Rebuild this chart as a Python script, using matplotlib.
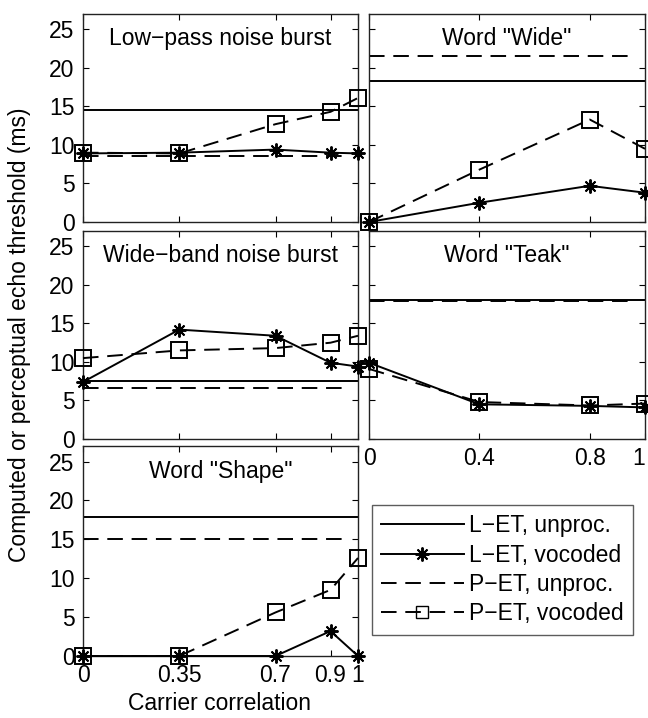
import numpy as np
import matplotlib
matplotlib.use("Agg")
import matplotlib.pyplot as plt
from matplotlib.lines import Line2D

plt.rcParams["font.family"] = ["Liberation Sans", "DejaVu Sans"]
plt.rcParams["font.size"] = 16.5

# carrier correlation values
x_noise = [0, 0.35, 0.7, 0.9, 1]
x_word = [0, 0.4, 0.8, 1]

# Low-pass noise burst
lp_let_unproc = 14.5
lp_pet_unproc = 8.6
lp_let_voc = [8.9, 9.0, 9.4, 9.0, 8.9]
lp_pet_voc = [9.0, 8.9, 12.7, 14.3, 16.1]

# Wide-band noise burst
wb_let_unproc = 7.5
wb_pet_unproc = 6.6
wb_let_voc = [7.4, 14.2, 13.4, 9.9, 9.4]
wb_pet_voc = [10.5, 11.5, 11.8, 12.5, 13.4]

# Word "Shape"
sh_let_unproc = 17.9
sh_pet_unproc = 15.0
sh_let_voc = [0, 0, 0, 3.2, 0]
sh_pet_voc = [0, 0, 5.6, 8.5, 12.6]

# Word "Wide"
wi_let_unproc = 18.3
wi_pet_unproc = 21.6
wi_let_voc = [0, 2.5, 4.7, 3.8]
wi_pet_voc = [0, 6.8, 13.3, 9.5]

# Word "Teak"
te_let_unproc = 18.0
te_pet_unproc = 17.9
te_let_voc = [9.9, 4.5, 4.3, 4.1]
te_pet_voc = [9.1, 4.8, 4.35, 4.6]

dash = (0, (8, 4.5))
lw = 1.4
star = (8, 2, 0)

fig = plt.figure(figsize=(6.48, 7.18), dpi=100)

lx, rx, w = 83 / 648, 369 / 648, 276 / 648
h = 208 / 718
rows = [1 - 222 / 718, 1 - 439 / 718, 1 - 656 / 718]


def panel(rect, title, x, let_u, pet_u, let_v, pet_v, xticks, xlabels, ylabels):
    ax = fig.add_axes(rect)
    ax.axhline(let_u, color="k", lw=lw)
    ax.axhline(pet_u, color="k", lw=lw, ls=dash, xmax=0.95)
    ax.plot(x, let_v, color="k", lw=lw, marker=star, ms=10, mew=1.4,
            clip_on=False, zorder=3)
    ax.plot(x, pet_v, color="k", lw=lw, ls=dash, marker="s", ms=11,
            mfc="none", mec="k", mew=1.4, clip_on=False, zorder=3)
    ax.set_xlim(0, 1)
    ax.set_ylim(0, 27)
    ax.set_xticks(xticks)
    ax.set_yticks([0, 5, 10, 15, 20, 25])
    if xlabels:
        ax.set_xticklabels(xlabels)
    else:
        ax.set_xticklabels([])
    if not ylabels:
        ax.set_yticklabels([])
    ax.tick_params(direction="in", top=True, right=True, length=4, width=0.8,
                   pad=6)
    for s in ax.spines.values():
        s.set_linewidth(1.0)
        s.set_color("#222222")
    ax.text(0.5, 0.88, title, transform=ax.transAxes, ha="center", va="center")
    return ax


panel([lx, rows[0], w - 1 / 648, h], "Low\u2212pass noise burst", x_noise,
      lp_let_unproc, lp_pet_unproc, lp_let_voc, lp_pet_voc,
      x_noise, None, True)
panel([lx, rows[1], w - 1 / 648, h], "Wide\u2212band noise burst", x_noise,
      wb_let_unproc, wb_pet_unproc, wb_let_voc, wb_pet_voc,
      x_noise, None, True)
panel([lx, rows[2], w - 1 / 648, 210 / 718], 'Word "Shape"', x_noise,
      sh_let_unproc, sh_pet_unproc, sh_let_voc, sh_pet_voc,
      x_noise, ["0", "0.35", "0.7", "0.9", "1"], True)
panel([rx, rows[0], w, h], 'Word "Wide"', x_word,
      wi_let_unproc, wi_pet_unproc, wi_let_voc, wi_pet_voc,
      x_word, None, False)
ax_teak = panel([rx, rows[1], w, h], 'Word "Teak"', x_word,
                te_let_unproc, te_pet_unproc, te_let_voc, te_pet_voc,
                x_word, ["0", "0.4", "0.8", "1"], False)
# keep the last tick label inside the figure edge
ax_teak.get_xticklabels()[-1].set_horizontalalignment("right")

handles = [
    Line2D([], [], color="k", lw=lw),
    Line2D([], [], color="k", lw=lw, marker=star, ms=10, mew=1.4),
    Line2D([], [], color="k", lw=lw, ls=dash),
    Line2D([], [], color="k", lw=lw, ls=dash, marker="s", ms=8, mfc="none"),
]
labels = ["L\u2212ET, unproc.", "L\u2212ET, vocoded",
          "P\u2212ET, unproc.", "P\u2212ET, vocoded"]
leg = fig.legend(handles, labels, loc="upper left",
                 bbox_to_anchor=(372 / 648, 1 - 505 / 718), borderaxespad=0,
                 frameon=True, fancybox=False, handlelength=3.6,
                 handletextpad=0.25, labelspacing=0.28, borderpad=0.4)
leg.get_frame().set_edgecolor("#333333")
leg.get_frame().set_linewidth(1.0)

fig.text(220 / 648, 1 - 703 / 718, "Carrier correlation", ha="center",
         va="center")
fig.text(20 / 648, 1 - 335 / 718, "Computed or perceptual echo threshold (ms)",
         ha="center", va="center", rotation=90)

plt.savefig("out.png", dpi=100)
